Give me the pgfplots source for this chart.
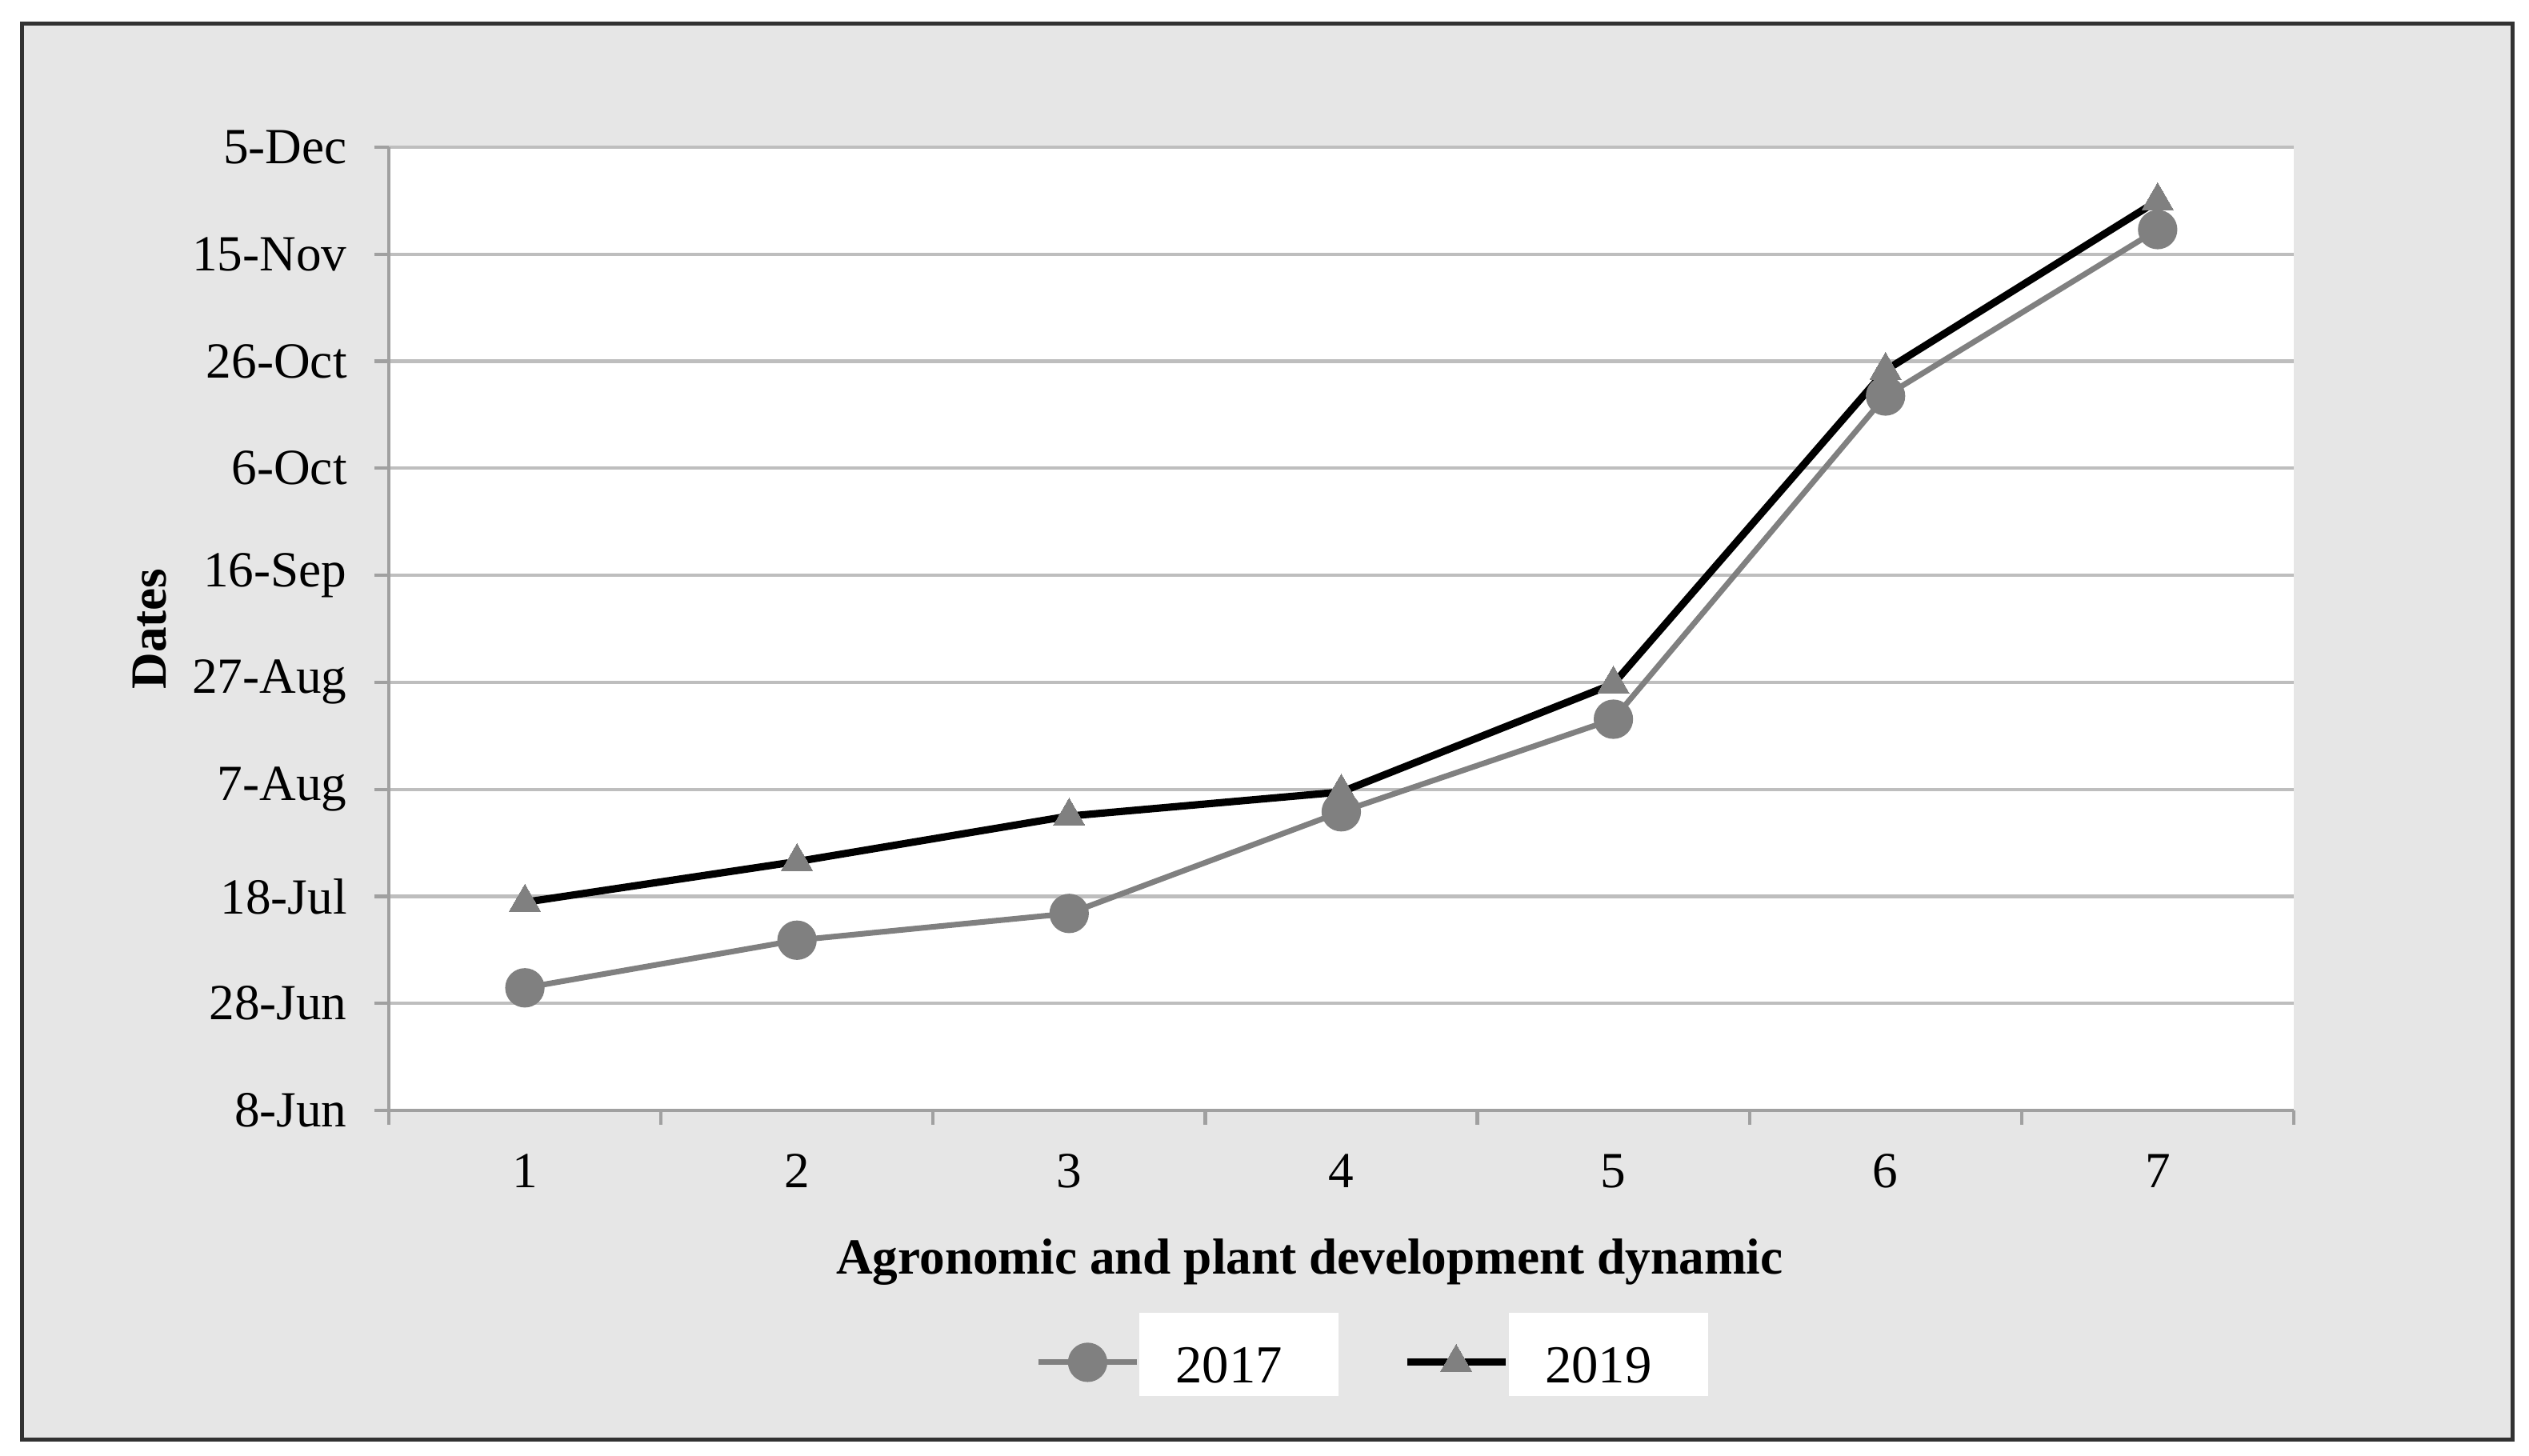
\documentclass[border=0pt]{standalone}
\usepackage{fontspec}
\setmainfont{Liberation Serif}
\usepackage{pgfplots}
\pgfplotsset{compat=1.18}
\definecolor{bgc}{RGB}{230,230,230}
\definecolor{gridc}{RGB}{190,190,190}
\definecolor{axc}{RGB}{160,160,160}
\definecolor{ser}{RGB}{128,128,128}
\definecolor{framec}{RGB}{50,50,50}
\begin{document}
\begin{tikzpicture}
\fill[white] (-2.43,-2.16) rectangle (13.375,6.94);
\filldraw[fill=bgc, draw=framec, line width=0.025cm] (-2.29,-2.06) rectangle (13.27,6.79);
\begin{axis}[
  at={(0,0)}, anchor=south west,
  scale only axis, width=11.905cm, height=6.02cm,
  xmin=0.5, xmax=7.5, ymin=0, ymax=180,
  xtick={0.5,1.5,...,7.5}, x tick label as interval,
  xticklabels={1,2,3,4,5,6,7},
  ytick={0,20,...,180},
  yticklabels={8-Jun,28-Jun,18-Jul,7-Aug,27-Aug,16-Sep,6-Oct,26-Oct,15-Nov,5-Dec},
  axis x line*=bottom, axis y line*=left,
  axis line style={draw=axc, line width=0.6pt, -},
  tick align=outside, major tick length=0.09cm,
  tick style={draw=axc, line width=0.6pt},
  ymajorgrids, grid style={draw=gridc, line width=0.6pt},
  axis background/.style={fill=white},
  ticklabel style={font=\fontsize{9}{10}\selectfont},
  xticklabel style={anchor=center, yshift=-0.29cm},
  yticklabel style={anchor=east, inner sep=0pt, xshift=-0.165cm},
  xlabel={Agronomic and plant development dynamic},
  xlabel style={at={(axis description cs:0.4834,-0.1578)}, anchor=center, font=\fontsize{9}{10}\selectfont\bfseries},
  ylabel={Dates},
  ylabel style={at={(axis description cs:-0.1256,0.5)}, anchor=center, font=\fontsize{9}{10}\selectfont\bfseries},
  legend columns=2,
  legend cell align=left,
  legend style={at={(axis description cs:0.516,-0.2508)}, anchor=center, draw=none, fill=none,
    inner sep=0pt, outer sep=0pt, row sep=0pt, column sep=0pt,
    nodes={inner sep=0pt},
    font=\fontsize{9.5}{11}\selectfont,
    /tikz/every even column/.append style={column sep=0.405cm}},
  legend image code/.code={\draw[mark repeat=2,mark phase=2,#1] plot coordinates {(0cm,-0.065cm) (0.3075cm,-0.065cm) (0.615cm,-0.065cm)};},
]
\addplot[color=ser, line width=1.0pt, mark=*, mark size=3pt, mark options={fill=ser, draw=ser, solid}]
  coordinates {(1,22.9) (2,31.8) (3,36.8) (4,55.8) (5,73.1) (6,133.5) (7,164.6)};
\addlegendentry{\setlength{\fboxsep}{0pt}\colorbox{white}{\rule[-0.085cm]{0pt}{0.52cm}\hspace{0.225cm}2017\hspace{0.35cm}}}
\addplot[color=black, line width=1.3pt, mark=triangle*, mark size=3.2pt, mark options={fill=ser, draw=ser, line width=0pt, solid}]
  coordinates {(1,38.9) (2,46.5) (3,55.0) (4,59.5) (5,79.7) (6,138.3) (7,170.0)};
\addlegendentry{\setlength{\fboxsep}{0pt}\colorbox{white}{\rule[-0.085cm]{0pt}{0.52cm}\hspace{0.225cm}2019\hspace{0.35cm}}}
\end{axis}
\end{tikzpicture}
\end{document}
